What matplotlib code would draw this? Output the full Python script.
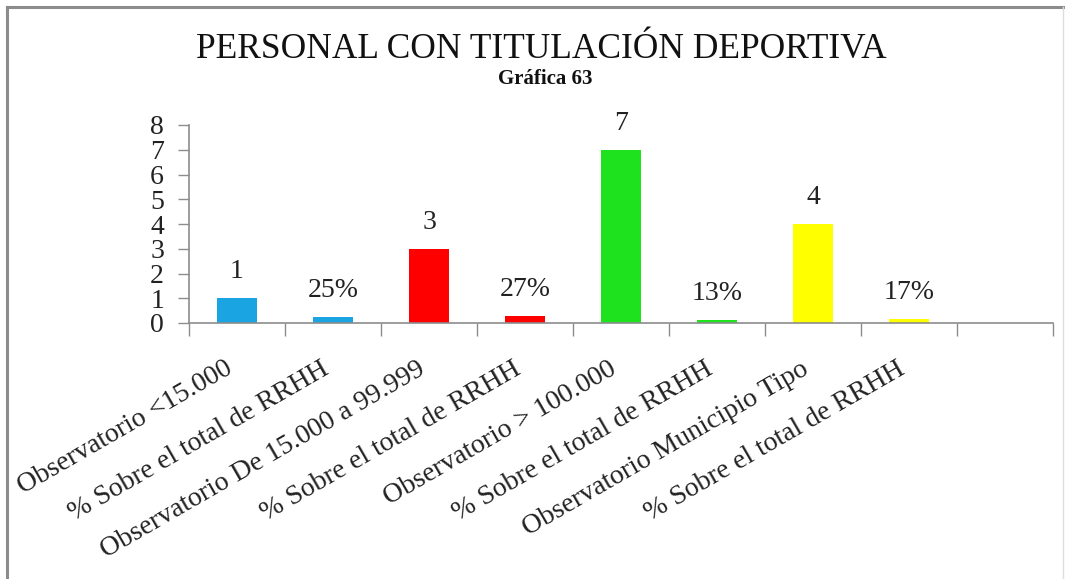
import matplotlib
matplotlib.use("Agg")
import matplotlib.pyplot as plt
from matplotlib.lines import Line2D
import numpy as np

categories = [
    "Observatorio <15.000",
    "% Sobre el total de RRHH",
    "Observatorio De 15.000 a 99.999",
    "% Sobre el total de RRHH",
    "Observatorio > 100.000",
    "% Sobre el total de RRHH",
    "Observatorio Municipio Tipo",
    "% Sobre el total de RRHH",
    "",
]
values = [1, 0.25, 3, 0.27, 7, 0.13, 4, 0.17]
value_labels = ["1", "25%", "3", "27%", "7", "13%", "4", "17%"]
bar_colors = ["#1BA4E2", "#1BA4E2", "#FF0000", "#FF0000",
              "#1EE21E", "#1EE21E", "#FFFF00", "#FFFF00"]
yticks = [0, 1, 2, 3, 4, 5, 6, 7, 8]
title = "PERSONAL CON TITULACIÓN DEPORTIVA"
subtitle = "Gráfica 63"

plt.rcParams['font.family'] = ['Liberation Serif', 'DejaVu Serif']

W, H = 1065, 579
fig = plt.figure(figsize=(W / 100, H / 100), dpi=100)
fig.patch.set_facecolor("white")

# outer frame
fig.add_artist(Line2D([7 / W, 7 / W], [0, 1 - 7 / H], transform=fig.transFigure,
                      color="#8c8c8c", lw=2.2))
fig.add_artist(Line2D([7 / W, 1063 / W], [1 - 7 / H, 1 - 7 / H], transform=fig.transFigure,
                      color="#8c8c8c", lw=2.2))
fig.add_artist(Line2D([1063 / W, 1063 / W], [0, 1 - 7 / H], transform=fig.transFigure,
                      color="#dddddd", lw=1.0))

left, right, bottom, top = 189, 1053, 323, 125
ax = fig.add_axes([left / W, 1 - bottom / H, (right - left) / W, (bottom - top) / H])

n = len(categories)
x = np.arange(len(values))
ax.bar(x, values, width=0.41, color=bar_colors, zorder=2)

for xi, v, lab in zip(x, values, value_labels):
    ax.annotate(lab, (xi, v), xytext=(0, 10), textcoords="offset points",
                ha="center", va="bottom", fontsize=20, color="#222222")

ax.set_xlim(-0.5, n - 0.5)
ax.set_ylim(0, 8)
ax.set_yticks(yticks)
ax.set_yticklabels([str(t) for t in yticks], fontsize=20, color="#222222")

ax.set_xticks(np.arange(-0.5, n, 1.0))
ax.set_xticklabels([])
ax.set_xticks(np.arange(n), minor=True)
ax.set_xticklabels(categories, minor=True, rotation=30, ha="right",
                   fontsize=20, color="#222222")
ax.tick_params(axis="x", which="major", length=9, color="#8c8c8c", width=1)
ax.tick_params(axis="x", which="minor", length=0, pad=24)
ax.tick_params(axis="y", length=8, color="#8c8c8c", width=1, pad=10)

for s in ["top", "right"]:
    ax.spines[s].set_visible(False)
for s in ["left", "bottom"]:
    ax.spines[s].set_color("#8c8c8c")
    ax.spines[s].set_linewidth(1.2)

fig.text(541.5 / W, 1 - 58 / H, title, ha="center", va="baseline",
         fontsize=25.5, color="#111111")
fig.text(545 / W, 1 - 84 / H, subtitle, ha="center", va="baseline",
         fontsize=15, fontweight="bold", color="#111111")

fig.savefig("out.png", dpi=100, facecolor="white")
